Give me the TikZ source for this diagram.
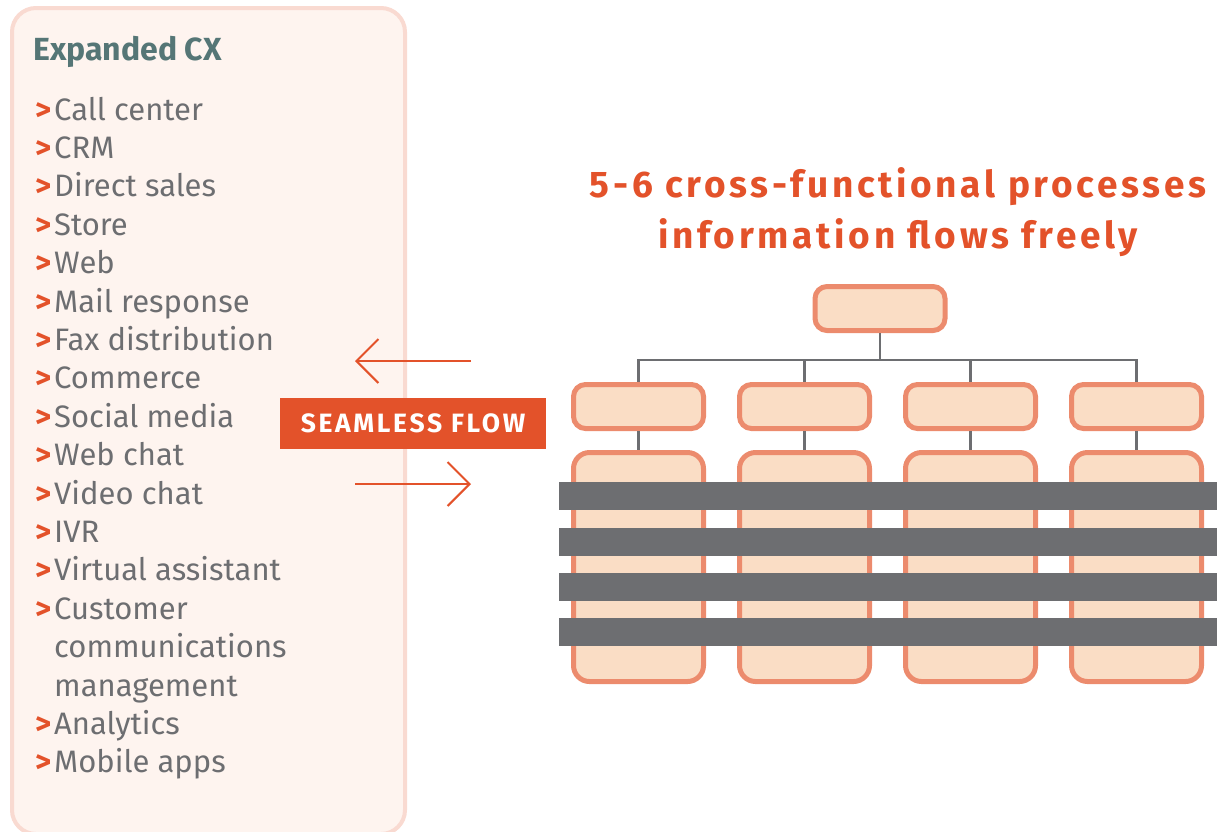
\documentclass[tikz,border=0pt]{standalone}
\usepackage{fontspec}
\setmainfont{Fira Sans}
\newfontfamily\spacedfont{Fira Sans}[LetterSpace=10]
\newfontfamily\tagfont{Fira Sans}[LetterSpace=10]
\usetikzlibrary{arrows.meta, positioning}
\definecolor{flow}{HTML}{E3522A}
\definecolor{ink}{HTML}{6D6E71}
\definecolor{cxteal}{HTML}{557676}
\definecolor{panelfill}{HTML}{FEF4EF}
\definecolor{panelline}{HTML}{F9DAD1}
\definecolor{boxfill}{HTML}{FADDC5}
\definecolor{boxline}{HTML}{EC8B6D}
\def\rowsep{38.4}

\begin{document}
\begin{tikzpicture}[x=1pt,y=-1pt]
    \tikzstyle{panel}=[draw=panelline, fill=panelfill, line width=4pt, rounded corners=24pt]
    \tikzstyle{cxtitle}=[anchor=base west, inner sep=0pt, text=cxteal, font=\fontsize{32}{38}\selectfont\bfseries]
    \tikzstyle{bullet}=[anchor=base west, inner sep=0pt, text=flow, font=\fontsize{31}{38}\selectfont\bfseries]
    \tikzstyle{item}=[anchor=base west, inner sep=0pt, text=ink, align=left, font=\fontsize{31}{38.4}\selectfont]
    \tikzstyle{heading}=[align=center, inner sep=0pt, text=flow, font=\spacedfont\fontsize{37}{51}\selectfont\bfseries]
    \tikzstyle{flowtag}=[fill=flow, text=white, minimum width=266pt, minimum height=51pt, inner sep=0pt, font=\tagfont\fontsize{26.5}{30}\selectfont\bfseries]
    \tikzstyle{flowarrow}=[draw=flow, line width=2pt, -{Straight Barb[length=22pt, width=44pt]}]
    \tikzstyle{orgbox}=[draw=boxline, fill=boxfill, line width=5pt, rounded corners=12pt, minimum width=130pt, minimum height=44pt, inner sep=0pt]
    \tikzstyle{tallbox}=[orgbox, minimum height=229pt, rounded corners=16pt]
    \tikzstyle{link}=[draw=ink, line width=2.2pt]
    \tikzstyle{bar}=[fill=ink]

    \useasboundingbox (0,0) rectangle (1217,831);

    % Left panel with the channel list
    \draw[panel] (12,8) rectangle (405,834);
    \node[cxtitle] (cx) at (33,60) {Expanded CX};
    % bullet row / baseline row of the last line / text
    \foreach \k/\last/\txt in {0/0/Call center, 1/1/CRM, 2/2/Direct sales, 3/3/Store, 4/4/Web,
        5/5/Mail response, 6/6/Fax distribution, 7/7/Commerce, 8/8/Social media,
        9/9/Web chat, 10/10/Video chat, 11/11/IVR, 12/12/Virtual assistant,
        13/15/{Customer\\communications\\management}, 16/16/Analytics, 17/17/Mobile apps}
    {
        \node[bullet] (b-\k) at (35,120+\k*\rowsep) {>};
        \node[item] (i-\k) at (54,120+\last*\rowsep) {\txt};
    }

    % Seamless flow arrows
    \coordinate (back-r) at (471,361);
    \coordinate (back-l) at (355,361);
    \coordinate (fwd-l) at (355,484);
    \coordinate (fwd-r) at (471,484);
    \draw[flowarrow] (back-r) -- (back-l);
    \draw[flowarrow] (fwd-l) -- (fwd-r);
    \node[flowtag] (tag) at (413,423.5) {SEAMLESS FLOW};

    % Heading
    \node[heading] (head) at (898,212) {5-6 cross-functional processes\\information flows freely};

    % Org chart
    \node[orgbox] (top) at (880,308.5) {};
    \coordinate (bus) at (880,360);
    \foreach \i in {1,...,4}
    {
        \node[orgbox] (mid-\i) at (472.5+\i*166,406.5) {};
        \node[tallbox] (low-\i) at (472.5+\i*166,567) {};
    }
    \draw[link] (top) -- (bus);
    \foreach \i in {1,...,4}
    {
        \draw[link] (bus) -| (mid-\i);
        \draw[link] (mid-\i) -- (low-\i);
    }

    % Data bars across the lower boxes
    \foreach \y in {482,528,573,618}
        \fill[bar] (559,\y) rectangle (1217,\y+27.5);
\end{tikzpicture}
\end{document}
